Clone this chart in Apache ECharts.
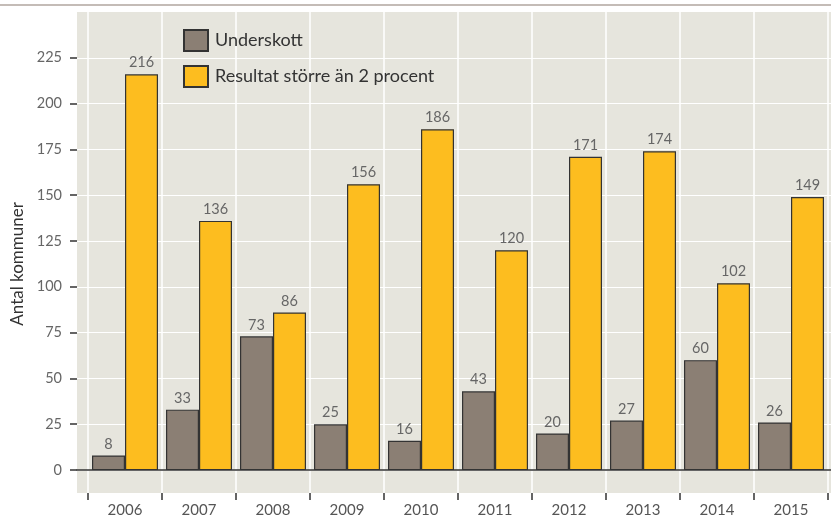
<!DOCTYPE html>
<html>
<head>
<meta charset="utf-8">
<script src="https://cdn.jsdelivr.net/npm/echarts@6/dist/echarts.min.js"></script>
<style>
  html, body { margin: 0; padding: 0; background: #ffffff; }
  #chart { width: 831px; height: 518px; }
</style>
</head>
<body>
<div id="chart"></div>
<script>
// Municipalities per year: deficit vs. result above 2 percent
const years = ['2006', '2007', '2008', '2009', '2010', '2011', '2012', '2013', '2014', '2015'];
const underskott = [8, 33, 73, 25, 16, 43, 20, 27, 60, 26];
const resultat = [216, 136, 86, 156, 186, 120, 171, 174, 102, 149];
const yTicksMax = 225;

const FONT = 'Lato, "Open Sans", sans-serif';
const BG = '#e6e5dd';

const chart = echarts.init(document.getElementById('chart'), null, { renderer: 'canvas' });

const barLabel = {
  show: true,
  position: 'top',
  distance: 4,
  fontFamily: FONT,
  fontSize: 14.5,
  color: '#666666'
};

chart.setOption({
  animation: false,
  backgroundColor: '#ffffff',
  textStyle: { fontFamily: FONT },
  graphic: [{
    type: 'line',
    shape: { x1: 0, y1: 5, x2: 831, y2: 5 },
    style: { stroke: '#c4bcb7', lineWidth: 2 },
    silent: true
  }],
  grid: [
    // 0: shaded plotting panel
    { left: 77, right: 0, top: 12, bottom: 25, show: true, backgroundColor: BG, borderWidth: 0 },
    // 1: value scale, horizontal guides and zero line
    { left: 77, right: 0, top: 57.8, bottom: 48 },
    // 2: bars and year columns
    { left: 88, right: 3, top: 12, bottom: 25 }
  ],
  xAxis: [
    { gridIndex: 0, type: 'value', show: false },
    {
      gridIndex: 1, type: 'value', min: 0, max: 1,
      axisLine: { show: true, onZero: false, lineStyle: { color: '#333333', width: 1.5 } },
      axisTick: { show: false }, axisLabel: { show: false }, splitLine: { show: false }
    },
    {
      gridIndex: 2, type: 'category', data: years, boundaryGap: true,
      axisLine: { show: false, onZero: false },
      axisTick: { show: true, length: 7, interval: 0, lineStyle: { color: '#333333', width: 1.5 } },
      axisLabel: { interval: 0, margin: 10, fontSize: 15, color: '#555555', fontFamily: FONT },
      splitLine: { show: true, interval: 0, lineStyle: { color: '#ffffff', width: 1.5 } }
    }
  ],
  yAxis: [
    { gridIndex: 0, type: 'value', show: false },
    {
      gridIndex: 1, type: 'value', min: 0, max: yTicksMax, interval: 25,
      name: 'Antal kommuner', nameLocation: 'middle', nameRotate: 90, nameGap: 50,
      nameTextStyle: { fontSize: 17, color: '#333333', fontFamily: FONT },
      axisLine: { show: false },
      axisTick: { show: true, length: 7, lineStyle: { color: '#333333', width: 1.5 } },
      axisLabel: { margin: 15, fontSize: 14.5, color: '#666666', fontFamily: FONT },
      splitLine: { show: true, lineStyle: { color: '#ffffff', width: 1 } }
    },
    { gridIndex: 2, type: 'value', min: -12.5, max: 250, show: false, splitLine: { show: false } }
  ],
  legend: {
    left: 183, top: 29, orient: 'vertical',
    itemWidth: 24, itemHeight: 21, itemGap: 13, padding: 0,
    icon: 'rect',
    textStyle: { fontSize: 18, color: '#333333', fontFamily: FONT, padding: [0, 0, 0, 2] },
    data: ['Underskott', 'Resultat större än 2 procent']
  },
  series: [
    {
      name: 'Underskott', type: 'bar', xAxisIndex: 2, yAxisIndex: 2,
      data: underskott, barWidth: 33, barGap: '0%',
      itemStyle: { color: '#8b7f74', borderColor: '#333333', borderWidth: 1.2 },
      label: barLabel
    },
    {
      name: 'Resultat större än 2 procent', type: 'bar', xAxisIndex: 2, yAxisIndex: 2,
      data: resultat, barWidth: 33, barGap: '0%',
      itemStyle: { color: '#fdbd1f', borderColor: '#333333', borderWidth: 1.2 },
      label: barLabel
    }
  ]
});
</script>
</body>
</html>
